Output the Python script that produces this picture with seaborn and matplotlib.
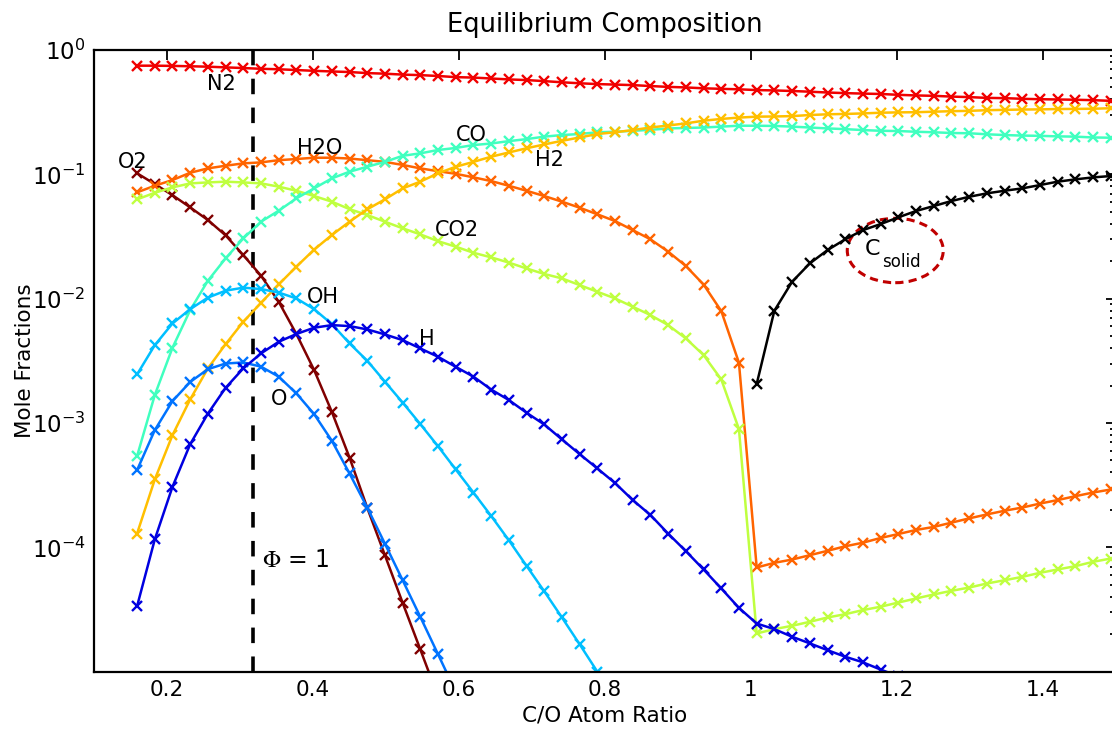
import numpy as np
import matplotlib
matplotlib.use("Agg")
import matplotlib.pyplot as plt
from matplotlib.patches import Ellipse
from matplotlib.ticker import LogLocator, NullFormatter
import seaborn as sns

# ---------------- data ----------------
co_ratio = [0.1590, 0.1833, 0.2075, 0.2318, 0.2560, 0.2803, 0.3045, 0.3288, 0.3530, 0.3773,
            0.4015, 0.4258, 0.4500, 0.4743, 0.4985, 0.5228, 0.5470, 0.5713, 0.5955, 0.6198,
            0.6440, 0.6683, 0.6925, 0.7168, 0.7410, 0.7653, 0.7895, 0.8138, 0.8380, 0.8623,
            0.8865, 0.9108, 0.9350, 0.9593, 0.9835, 1.0078, 1.0320, 1.0563, 1.0805, 1.1048,
            1.1290, 1.1533, 1.1775, 1.2018, 1.2260, 1.2503, 1.2745, 1.2988, 1.3230, 1.3473,
            1.3715, 1.3958, 1.4200, 1.4443, 1.4685, 1.4928]

n2 = [0.748, 0.748, 0.745, 0.740, 0.734, 0.725, 0.716, 0.706, 0.700, 0.690,
      0.680, 0.672, 0.665, 0.652, 0.645, 0.634, 0.628, 0.618, 0.605, 0.600,
      0.590, 0.580, 0.573, 0.562, 0.550, 0.540, 0.532, 0.527, 0.522, 0.513,
      0.505, 0.500, 0.492, 0.487, 0.483, 0.476, 0.473, 0.468, 0.462, 0.455,
      0.450, 0.446, 0.443, 0.436, 0.431, 0.428, 0.422, 0.418, 0.412, 0.410,
      0.405, 0.402, 0.400, 0.398, 0.395, 0.390]

o2 = [0.102, 0.0835, 0.068, 0.0542, 0.0429, 0.0323, 0.0224, 0.0153, 0.00945, 0.00519,
      0.00267, 0.00123, 5.28e-4, 2.08e-4, 8.65e-5, 3.58e-5, 1.51e-5, 6.3e-6]

h2o = [0.0716, 0.081, 0.090, 0.103, 0.1117, 0.1173, 0.1225, 0.1248, 0.130, 0.1328,
       0.136, 0.136, 0.134, 0.130, 0.126, 0.119, 0.1117, 0.106, 0.101, 0.0946,
       0.0883, 0.0809, 0.0738, 0.0669, 0.0603, 0.0539, 0.0477, 0.0421, 0.0356, 0.0300,
       0.0239, 0.0183, 0.0130, 0.00795, 0.00305, 6.89e-5, 7.51e-5, 7.98e-5, 8.65e-5, 9.38e-5,
       1.02e-4, 1.09e-4, 1.19e-4, 1.28e-4, 1.38e-4, 1.46e-4, 1.58e-4, 1.71e-4, 1.84e-4, 1.97e-4,
       2.09e-4, 2.25e-4, 2.40e-4, 2.58e-4, 2.76e-4, 2.92e-4]

co2 = [0.0629, 0.0711, 0.0785, 0.0846, 0.0861, 0.0873, 0.0861, 0.0846, 0.0796, 0.0738,
       0.0669, 0.0603, 0.0525, 0.0471, 0.0416, 0.0368, 0.0329, 0.0290, 0.0262, 0.0234,
       0.0215, 0.0195, 0.0175, 0.0158, 0.01456, 0.01286, 0.01137, 0.01005, 0.00861, 0.00738,
       0.00613, 0.00479, 0.00352, 0.00224, 8.93e-4, 2.03e-5, 2.20e-5, 2.34e-5, 2.52e-5, 2.73e-5,
       2.90e-5, 3.13e-5, 3.33e-5, 3.60e-5, 3.88e-5, 4.18e-5, 4.47e-5, 4.75e-5, 5.12e-5, 5.44e-5,
       5.79e-5, 6.24e-5, 6.64e-5, 7.06e-5, 7.65e-5, 8.13e-5]

co = [5.42e-4, 1.68e-3, 4.03e-3, 8.09e-3, 0.01394, 0.0211, 0.0305, 0.0416, 0.0510, 0.0641,
      0.0771, 0.0928, 0.105, 0.1151, 0.126, 0.141, 0.1475, 0.157, 0.163, 0.172,
      0.177, 0.185, 0.192, 0.201, 0.207, 0.211, 0.218, 0.220, 0.224, 0.228,
      0.234, 0.236, 0.238, 0.242, 0.246, 0.246, 0.245, 0.242, 0.238, 0.234,
      0.231, 0.227, 0.224, 0.223, 0.220, 0.218, 0.215, 0.214, 0.210, 0.207,
      0.205, 0.204, 0.202, 0.201, 0.198, 0.197]

h2 = [1.29e-4, 3.52e-4, 7.99e-4, 1.55e-3, 2.75e-3, 4.31e-3, 6.52e-3, 9.27e-3, 0.01302, 0.0181,
      0.0248, 0.0325, 0.0416, 0.0523, 0.0629, 0.0771, 0.0873, 0.102, 0.115, 0.126,
      0.1386, 0.150, 0.162, 0.174, 0.186, 0.198, 0.211, 0.218, 0.227, 0.238,
      0.247, 0.257, 0.270, 0.279, 0.286, 0.291, 0.292, 0.294, 0.300, 0.304,
      0.306, 0.309, 0.313, 0.315, 0.316, 0.319, 0.322, 0.324, 0.328, 0.330,
      0.332, 0.333, 0.335, 0.336, 0.337, 0.340]

oh = [2.46e-3, 4.23e-3, 6.32e-3, 8.24e-3, 0.0102, 0.0116, 0.01226, 0.01195, 0.0112, 0.01004,
      8.24e-3, 6.25e-3, 4.37e-3, 3.17e-3, 2.15e-3, 1.46e-3, 9.8e-4, 6.5e-4, 4.23e-4, 2.76e-4,
      1.79e-4, 1.14e-4, 7.1e-5, 4.43e-5, 2.73e-5, 1.66e-5, 1.0e-5, 6.1e-6]

o_atom = [4.18e-4, 8.77e-4, 1.50e-3, 2.14e-3, 2.71e-3, 3.01e-3, 3.07e-3, 2.84e-3, 2.36e-3, 1.73e-3,
          1.18e-3, 7.2e-4, 3.93e-4, 2.09e-4, 1.07e-4, 5.44e-5, 2.76e-5, 1.38e-5, 6.9e-6]

h_atom = [3.36e-5, 1.16e-4, 3.07e-4, 6.76e-4, 1.19e-3, 1.92e-3, 2.75e-3, 3.63e-3, 4.50e-3, 5.20e-3,
          5.84e-3, 6.13e-3, 6.02e-3, 5.66e-3, 5.16e-3, 4.64e-3, 3.98e-3, 3.41e-3, 2.83e-3, 2.36e-3,
          1.86e-3, 1.53e-3, 1.21e-3, 9.73e-4, 7.38e-4, 5.62e-4, 4.31e-4, 3.29e-4, 2.40e-4, 1.82e-4,
          1.29e-4, 9.32e-5, 6.64e-5, 4.67e-5, 3.26e-5, 2.44e-5, 2.20e-5, 1.91e-5, 1.69e-5, 1.49e-5,
          1.32e-5, 1.19e-5, 1.04e-5, 9.2e-6]

c_solid = [2.06e-3, 8.0e-3, 0.01368, 0.0192, 0.0246, 0.0300, 0.0356, 0.0398, 0.0451, 0.0507,
           0.0556, 0.0610, 0.0660, 0.0703, 0.0738, 0.0771, 0.0820, 0.0873, 0.0911, 0.0945,
           0.0969]
c_solid_start = 35

phi_one = 0.318

x_ticks = [0.2, 0.4, 0.6, 0.8, 1.0, 1.2, 1.4]
x_tick_labels = ["0.2", "0.4", "0.6", "0.8", "1", "1.2", "1.4"]
y_ticks = [1e-4, 1e-3, 1e-2, 1e-1, 1.0]
y_tick_labels = [r"$10^{-4}$", r"$10^{-3}$", r"$10^{-2}$", r"$10^{-1}$", r"$10^{0}$"]

# ---------------- style ----------------
sns.set_style("white")
plt.rcParams["font.family"] = ["DejaVu Sans"]
plt.rcParams["mathtext.fontset"] = "dejavusans"
for key in ["text.color", "axes.labelcolor", "xtick.color", "ytick.color",
            "axes.edgecolor", "axes.titlecolor"]:
    plt.rcParams[key] = "black"

fig = plt.figure(figsize=(11.12, 7.32), dpi=100)
W, H = 1112.0, 732.0
ax = fig.add_axes([94 / W, 1 - 671.7 / H, (1116 - 94) / W, (671.7 - 50) / H])
ax.set_yscale("log")

series = [
    ("N2", n2, 0, "#F00000"),
    ("O2", o2, 0, "#800000"),
    ("H2O", h2o, 0, "#FF6400"),
    ("CO2", co2, 0, "#BFFF40"),
    ("CO", co, 0, "#40FFBF"),
    ("H2", h2, 0, "#FFBF00"),
    ("OH", oh, 0, "#00BFFF"),
    ("O", o_atom, 0, "#0073FF"),
    ("H", h_atom, 0, "#0000E0"),
    ("Csolid", c_solid, c_solid_start, "#000000"),
]

ax.axvline(phi_one, color="k", lw=2.6, dashes=(4.3, 3.7), zorder=1.5)

for name, vals, start, col in series:
    xs = co_ratio[start:start + len(vals)]
    sns.lineplot(x=xs, y=vals, ax=ax, color=col, lw=1.8, marker="x",
                 markersize=7, markeredgewidth=1.7, markeredgecolor=col,
                 sort=False, estimator=None, legend=False)

ax.set_xlim(0.1, 1.5)
ax.set_ylim(1e-5, 1.0)
ax.set_xticks(x_ticks)
ax.set_xticklabels(x_tick_labels)
ax.set_yticks(y_ticks)
ax.set_yticklabels(y_tick_labels)
ax.yaxis.set_minor_locator(LogLocator(base=10, subs=np.arange(2, 10), numticks=30))
ax.yaxis.set_minor_formatter(NullFormatter())

ax.tick_params(axis="both", which="both", direction="in", top=True, right=True,
               width=1.3, color="k", labelcolor="k")
ax.tick_params(which="major", length=7.2)
ax.tick_params(which="minor", length=4.5)
ax.tick_params(axis="x", labelsize=15.5, pad=6)
ax.tick_params(axis="y", labelsize=16.5, pad=6)
for s in ax.spines.values():
    s.set_linewidth(1.6)
    s.set_color("k")

ax.set_title("Equilibrium Composition", fontsize=18.5, pad=13, color="k")
ax.set_xlabel("C/O Atom Ratio", fontsize=15.5, labelpad=4, color="k")
ax.set_ylabel("Mole Fractions", fontsize=15.5, color="k")
ax.yaxis.set_label_coords(-0.058, 0.5)

# species labels
labels = [
    ("N2", 0.274, 0.477), ("O2", 0.153, 0.112), ("H2O", 0.409, 0.146),
    ("CO", 0.617, 0.186), ("H2", 0.7234, 0.117), ("CO2", 0.597, 0.0319),
    ("OH", 0.4136, 9.17e-3), ("H", 0.5556, 4.23e-3), ("O", 0.354, 1.39e-3),
]
for txt, lx, ly in labels:
    ax.text(lx, ly, txt, fontsize=15, ha="center", va="baseline", color="k")

ax.text(0.3303, 6.97e-5, r"$\Phi$ = 1", fontsize=17, ha="left", va="baseline",
        math_fontfamily="stix", color="k")
ax.text(1.156, 0.0224, "C", fontsize=16, ha="left", va="baseline", color="k")
ax.text(1.180, 0.0181, "solid", fontsize=12, ha="left", va="baseline", color="k")

ell = Ellipse((0.784, 0.6775), 0.0939, 0.1036, transform=ax.transAxes, fill=False,
              ec="#C00000", lw=2.2, ls=(0, (2.7, 1.7)), zorder=1.8)
ax.add_patch(ell)

fig.savefig("out.png", dpi=100)
